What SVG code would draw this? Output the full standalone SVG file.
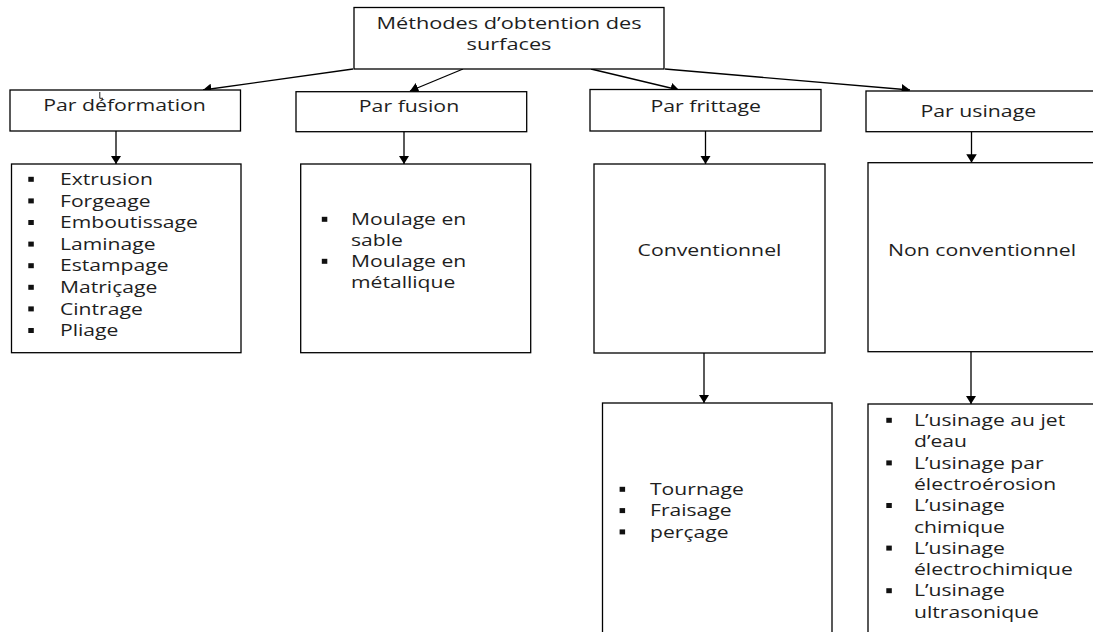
<svg xmlns="http://www.w3.org/2000/svg" width="1093" height="632" viewBox="0 0 1093 632">
<style>
.box{fill:#fff;stroke:#000;stroke-width:1.3}
.t{font-family:"Open Sans","DejaVu Sans",sans-serif;font-size:16px;fill:#1e1e1e}
.c{text-anchor:middle}
.b{fill:#111}
.con{stroke:#000;stroke-width:1.3;fill:none;marker-end:url(#ah)}
</style>
<defs>
<marker id="ah" viewBox="0 0 8 10" refX="8" refY="5" markerWidth="8.5" markerHeight="10.5" markerUnits="userSpaceOnUse" orient="auto">
<path d="M0,0 L8,5 L0,10 z" fill="#000"/>
</marker>
</defs>
<rect width="1093" height="632" fill="#fff"/>

<g id="connectors">
<line class="con" x1="353" y1="69" x2="203" y2="90"/>
<line class="con" x1="463" y1="69" x2="410" y2="91"/>
<line class="con" x1="591" y1="69" x2="679" y2="90"/>
<line class="con" x1="665" y1="69" x2="910" y2="90"/>
<line class="con" x1="116" y1="131" x2="116" y2="164"/>
<line class="con" x1="404" y1="132" x2="404" y2="164"/>
<line class="con" x1="705.5" y1="131" x2="705.5" y2="164"/>
<line class="con" x1="971.5" y1="132" x2="971.5" y2="162.7"/>
<line class="con" x1="704" y1="353" x2="704" y2="403"/>
<line class="con" x1="971" y1="352" x2="971" y2="404"/>
</g>

<g id="root">
<rect class="box" x="354" y="7.5" width="310" height="61.5"/>
<text class="t c" transform="matrix(1.36 0 0 1 509 29.3)">Méthodes d’obtention des</text>
<text class="t c" transform="matrix(1.36 0 0 1 509 50)">surfaces</text>
</g>

<g id="par-deformation">
<rect class="box" x="10" y="90" width="230.5" height="41"/>
<text class="t c" transform="matrix(1.33 0 0 1 124.5 110.5)">Par déformation</text>
<path d="M99.8 92 V98.3 H103" stroke="#222" stroke-width="1" fill="none"/>
</g>

<g id="par-fusion">
<rect class="box" x="296" y="91.7" width="230.7" height="40"/>
<text class="t c" transform="matrix(1.33 0 0 1 409 112)">Par fusion</text>
</g>

<g id="par-frittage">
<rect class="box" x="590" y="89.5" width="231" height="41.5"/>
<text class="t c" transform="matrix(1.33 0 0 1 705.7 112)">Par frittage</text>
</g>

<g id="par-usinage">
<rect class="box" x="866" y="91" width="240" height="40.7"/>
<text class="t c" transform="matrix(1.33 0 0 1 978.3 116.5)">Par usinage</text>
</g>

<g id="liste-deformation">
<rect class="box" x="11.5" y="164" width="229.5" height="188.7"/>
<rect class="b" x="28.3" y="176.8" width="5.5" height="5"/>
<text class="t" transform="matrix(1.32 0 0 1 60 185)">Extrusion</text>
<rect class="b" x="28.3" y="198.4" width="5.5" height="5"/>
<text class="t" transform="matrix(1.32 0 0 1 60 206.6)">Forgeage</text>
<rect class="b" x="28.3" y="220" width="5.5" height="5"/>
<text class="t" transform="matrix(1.32 0 0 1 60 228.2)">Emboutissage</text>
<rect class="b" x="28.3" y="241.6" width="5.5" height="5"/>
<text class="t" transform="matrix(1.32 0 0 1 60 249.8)">Laminage</text>
<rect class="b" x="28.3" y="263.2" width="5.5" height="5"/>
<text class="t" transform="matrix(1.32 0 0 1 60 271.4)">Estampage</text>
<rect class="b" x="28.3" y="284.8" width="5.5" height="5"/>
<text class="t" transform="matrix(1.32 0 0 1 60 293)">Matriçage</text>
<rect class="b" x="28.3" y="306.4" width="5.5" height="5"/>
<text class="t" transform="matrix(1.32 0 0 1 60 314.6)">Cintrage</text>
<rect class="b" x="28.3" y="328" width="5.5" height="5"/>
<text class="t" transform="matrix(1.32 0 0 1 60 336.2)">Pliage</text>
</g>

<g id="liste-fusion">
<rect class="box" x="300.7" y="164" width="230" height="188.7"/>
<rect class="b" x="321.8" y="216.8" width="5.5" height="5"/>
<text class="t" transform="matrix(1.32 0 0 1 351 225)">Moulage en</text>
<text class="t" transform="matrix(1.32 0 0 1 351 246)">sable</text>
<rect class="b" x="321.8" y="258.8" width="5.5" height="5"/>
<text class="t" transform="matrix(1.32 0 0 1 351 267)">Moulage en</text>
<text class="t" transform="matrix(1.32 0 0 1 351 288)">métallique</text>
</g>

<g id="conventionnel">
<rect class="box" x="594" y="164" width="231" height="189"/>
<text class="t c" transform="matrix(1.33 0 0 1 709.5 255.5)">Conventionnel</text>
</g>

<g id="non-conventionnel">
<rect class="box" x="868" y="162.7" width="240" height="189"/>
<text class="t c" transform="matrix(1.33 0 0 1 982 256)">Non conventionnel</text>
</g>

<g id="liste-conventionnel">
<rect class="box" x="602.5" y="403" width="229.5" height="240"/>
<rect class="b" x="619.6" y="486.8" width="5.5" height="5"/>
<text class="t" transform="matrix(1.32 0 0 1 650 495)">Tournage</text>
<rect class="b" x="619.6" y="508.1" width="5.5" height="5"/>
<text class="t" transform="matrix(1.32 0 0 1 650 516.3)">Fraisage</text>
<rect class="b" x="619.6" y="529.4" width="5.5" height="5"/>
<text class="t" transform="matrix(1.32 0 0 1 650 537.6)">perçage</text>
</g>

<g id="liste-non-conventionnel">
<rect class="box" x="868" y="404" width="240" height="240"/>
<rect class="b" x="886.3" y="417.8" width="5.5" height="5"/>
<text class="t" transform="matrix(1.32 0 0 1 914 426)">L’usinage au jet</text>
<text class="t" transform="matrix(1.32 0 0 1 914 447.3)">d’eau</text>
<rect class="b" x="886.3" y="460.4" width="5.5" height="5"/>
<text class="t" transform="matrix(1.32 0 0 1 914 468.6)">L’usinage par</text>
<text class="t" transform="matrix(1.32 0 0 1 914 489.9)">électroérosion</text>
<rect class="b" x="886.3" y="503" width="5.5" height="5"/>
<text class="t" transform="matrix(1.32 0 0 1 914 511.2)">L’usinage</text>
<text class="t" transform="matrix(1.32 0 0 1 914 532.5)">chimique</text>
<rect class="b" x="886.3" y="545.6" width="5.5" height="5"/>
<text class="t" transform="matrix(1.32 0 0 1 914 553.8)">L’usinage</text>
<text class="t" transform="matrix(1.32 0 0 1 914 575.1)">électrochimique</text>
<rect class="b" x="886.3" y="588.2" width="5.5" height="5"/>
<text class="t" transform="matrix(1.32 0 0 1 914 596.4)">L’usinage</text>
<text class="t" transform="matrix(1.32 0 0 1 914 617.7)">ultrasonique</text>
</g>
</svg>
